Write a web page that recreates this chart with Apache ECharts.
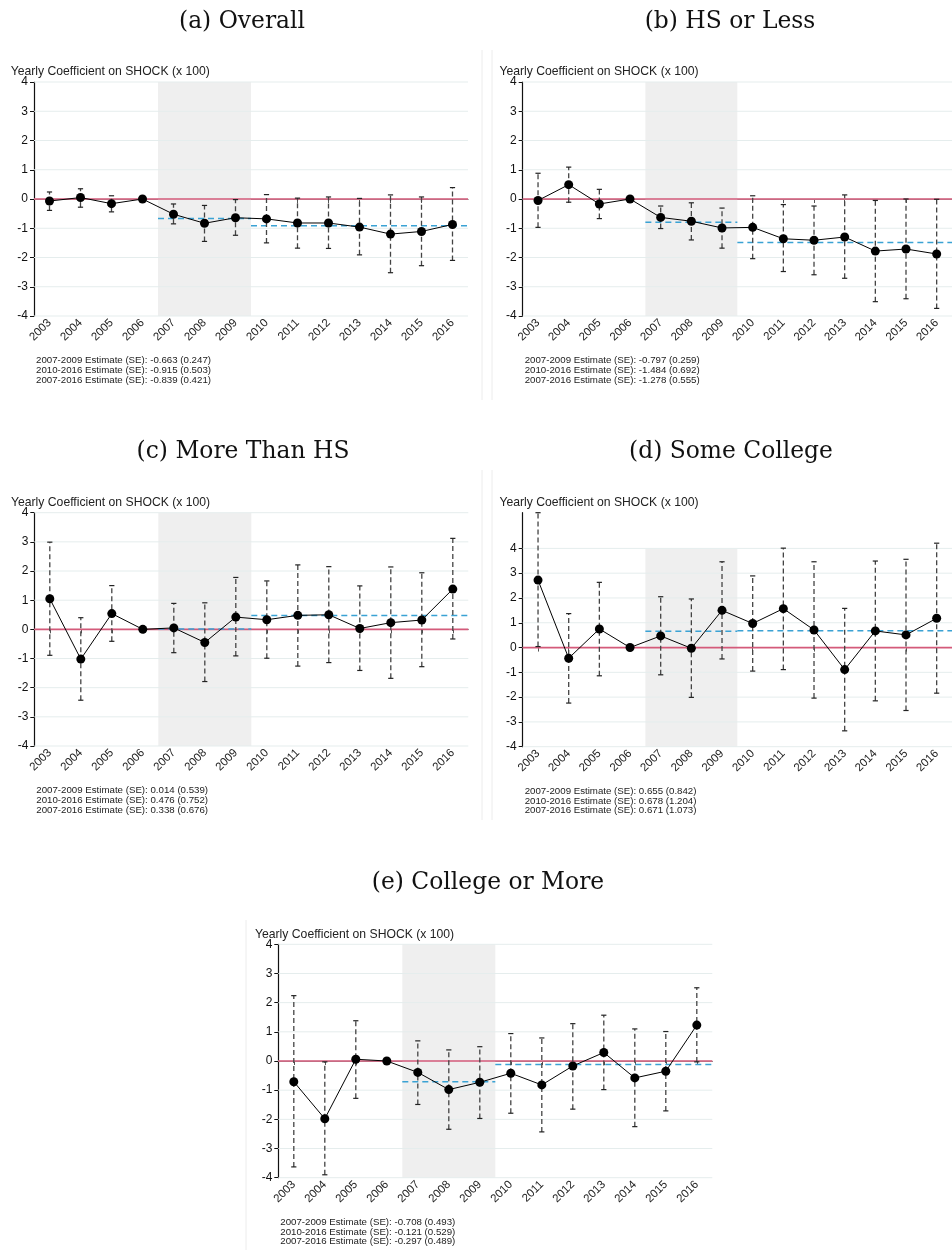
<!DOCTYPE html>
<html><head><meta charset="utf-8">
<script src="https://cdn.jsdelivr.net/npm/echarts@6/dist/echarts.min.js"></script>
<style>html,body{margin:0;padding:0;background:#fff}#c{width:952px;height:1250px}</style>
</head><body><div id="c"></div>
<script>
// ---------- DATA ----------
const years = ['2003','2004','2005','2006','2007','2008','2009','2010','2011','2012','2013','2014','2015','2016'];
const yTicks = [-4,-3,-2,-1,0,1,2,3,4];
const yAxisTitle = 'Yearly Coefficient on SHOCK (x 100)';
const panelTitles = ['(a) Overall','(b) HS or Less','(c) More Than HS','(d) Some College','(e) College or More'];
const shadeYears = ['2007','2009'];
const periods = [['2007','2009'],['2010','2016']];

const coefA = [-0.07, 0.05, -0.16, 0, -0.52, -0.83, -0.64, -0.68, -0.82, -0.82, -0.96, -1.20, -1.11, -0.87];
const loA   = [-0.39, -0.28, -0.44, 0, -0.85, -1.45, -1.24, -1.50, -1.68, -1.69, -1.91, -2.52, -2.28, -2.10];
const hiA   = [0.24, 0.35, 0.11, 0, -0.17, -0.22, -0.02, 0.15, 0.03, 0.07, 0.02, 0.14, 0.07, 0.39];
const estA  = [-0.663, -0.915];
const notesA = ['2007-2009 Estimate (SE): -0.663 (0.247)','2010-2016 Estimate (SE): -0.915 (0.503)','2007-2016 Estimate (SE): -0.839 (0.421)'];

const coefB = [-0.05, 0.49, -0.17, 0, -0.63, -0.76, -0.99, -0.97, -1.36, -1.41, -1.30, -1.78, -1.71, -1.88];
const loB   = [-0.97, -0.11, -0.67, 0, -1.01, -1.40, -1.68, -2.04, -2.48, -2.59, -2.71, -3.51, -3.41, -3.74];
const hiB   = [0.88, 1.09, 0.33, 0, -0.24, -0.13, -0.31, 0.11, -0.19, -0.24, 0.14, -0.05, 0.00, -0.01];
const estB  = [-0.797, -1.484];
const notesB = ['2007-2009 Estimate (SE): -0.797 (0.259)','2010-2016 Estimate (SE): -1.484 (0.692)','2007-2016 Estimate (SE): -1.278 (0.555)'];

const coefC = [1.05, -1.02, 0.54, 0, 0.05, -0.45, 0.42, 0.33, 0.48, 0.50, 0.03, 0.23, 0.32, 1.38];
const loC   = [-0.89, -2.43, -0.41, 0, -0.80, -1.79, -0.91, -0.99, -1.26, -1.14, -1.41, -1.68, -1.28, -0.33];
const hiC   = [2.99, 0.40, 1.50, 0, 0.89, 0.91, 1.78, 1.66, 2.21, 2.15, 1.49, 2.14, 1.94, 3.12];
const estC  = [0.014, 0.476];
const notesC = ['2007-2009 Estimate (SE): 0.014 (0.539)','2010-2016 Estimate (SE): 0.476 (0.752)','2007-2016 Estimate (SE): 0.338 (0.676)'];

const coefD = [2.72, -0.43, 0.75, 0, 0.47, -0.03, 1.50, 0.97, 1.57, 0.71, -0.89, 0.67, 0.51, 1.18];
const loD   = [0.04, -2.24, -1.14, 0, -1.10, -2.01, -0.46, -0.95, -0.89, -2.04, -3.36, -2.15, -2.54, -1.84];
const hiD   = [5.44, 1.37, 2.63, 0, 2.05, 1.96, 3.46, 2.89, 4.01, 3.46, 1.58, 3.49, 3.56, 4.21];
const estD  = [0.655, 0.678];
const notesD = ['2007-2009 Estimate (SE): 0.655 (0.842)','2010-2016 Estimate (SE): 0.678 (1.204)','2007-2016 Estimate (SE): 0.671 (1.073)'];

const coefE = [-0.71, -1.98, 0.06, 0, -0.39, -0.98, -0.73, -0.42, -0.82, -0.17, 0.29, -0.58, -0.35, 1.23];
const loE   = [-3.63, -3.90, -1.28, 0, -1.49, -2.34, -1.97, -1.79, -2.43, -1.65, -0.98, -2.25, -1.71, -0.03];
const hiE   = [2.24, -0.03, 1.38, 0, 0.69, 0.38, 0.49, 0.94, 0.79, 1.28, 1.57, 1.10, 1.01, 2.51];
const estE  = [-0.708, -0.121];
const notesE = ['2007-2009 Estimate (SE): -0.708 (0.493)','2010-2016 Estimate (SE): -0.121 (0.529)','2007-2016 Estimate (SE): -0.297 (0.489)'];

// ---------- LAYOUT ----------
const panels = [
  {coef:coefA, lo:loA, hi:hiA, est:estA, notes:notesA, yMax:4,    left:34,    top:82,    h:234,   subX:242, subY:22},
  {coef:coefB, lo:loB, hi:hiB, est:estB, notes:notesB, yMax:4,    left:522.7, top:82,    h:234,   subX:730, subY:22},
  {coef:coefC, lo:loC, hi:hiC, est:estC, notes:notesC, yMax:4,    left:34.3,  top:512.7, h:233.3, subX:243, subY:452},
  {coef:coefD, lo:loD, hi:hiD, est:estD, notes:notesD, yMax:hiD[0], left:522.7, top:512.7, h:234,  subX:731, subY:452},
  {coef:coefE, lo:loE, hi:hiE, est:estE, notes:notesE, yMax:4,    left:278.3, top:944.3, h:233.4, subX:488, subY:883}
];
const W = 434;
const red = '#d45a7a', blue = '#3aa2d4', gridCol = '#e5eded';

const chart = echarts.init(document.getElementById('c'), null, {renderer:'canvas'});
const grid = [], xAxis = [], yAxis = [], series = [], graphic = [];
const catIdx = y => years.indexOf(y);

panels.forEach((p, k) => {
  grid.push({left:p.left, top:p.top, width:W, height:p.h, containLabel:false});
  xAxis.push({type:'category', gridIndex:k, data:years, boundaryGap:true,
    axisLine:{show:true, lineStyle:{color:'#555', width:1.2}},
    axisTick:{show:true, alignWithLabel:true, length:4, lineStyle:{color:'#555', width:1}},
    axisLabel:{interval:0, rotate:45, fontSize:11.5, color:'#222', margin:5, fontFamily:'Liberation Sans'},
    splitLine:{show:false}});
  yAxis.push({type:'value', gridIndex:k, min:-4, max:p.yMax, interval:1,
    axisLine:{show:true, lineStyle:{color:'#111', width:1.2}},
    axisTick:{show:true, length:4, lineStyle:{color:'#111'}, customValues:yTicks},
    axisLabel:{fontSize:12, color:'#111', margin:6, fontFamily:'Liberation Sans', customValues:yTicks,
      formatter: v => (v > 4.001 ? '' : String(v))},
    splitLine:{show:false}});

  // shaded recession band
  series.push({type:'custom', xAxisIndex:k, yAxisIndex:k, z:1, silent:true,
    data:[[catIdx(shadeYears[0]), catIdx(shadeYears[1])]],
    renderItem:(params, api) => {
      const bw = api.size([1,0])[0];
      const a = api.coord([api.value(0), 4]), b = api.coord([api.value(1), -4]);
      return {type:'rect', shape:{x:a[0]-bw/2, y:a[1], width:b[0]-a[0]+bw, height:b[1]-a[1]},
        style:{fill:'#efefef'}};
    }});
  // gridlines
  series.push({type:'custom', xAxisIndex:k, yAxisIndex:k, z:2, silent:true,
    data: yTicks.map(v => [0, v]),
    renderItem:(params, api) => {
      const cs = params.coordSys; const y = api.coord([0, api.value(1)])[1];
      return {type:'line', shape:{x1:cs.x, y1:y, x2:cs.x+cs.width, y2:y}, style:{stroke:gridCol, lineWidth:1}};
    }});
  // zero line
  series.push({type:'custom', xAxisIndex:k, yAxisIndex:k, z:3, silent:true,
    data:[[0, 0]],
    renderItem:(params, api) => {
      const cs = params.coordSys; const y = api.coord([0, api.value(1)])[1];
      return {type:'line', shape:{x1:cs.x, y1:y, x2:cs.x+cs.width, y2:y}, style:{stroke:red, lineWidth:1.7}};
    }});
  // period estimates
  series.push({type:'custom', xAxisIndex:k, yAxisIndex:k, z:4, silent:true,
    data: periods.map((pr, i) => [catIdx(pr[0]), catIdx(pr[1]), p.est[i]]),
    renderItem:(params, api) => {
      const bw = api.size([1,0])[0];
      const a = api.coord([api.value(0), api.value(2)]), b = api.coord([api.value(1), api.value(2)]);
      return {type:'line', shape:{x1:a[0]-bw/2, y1:a[1], x2:b[0]+bw/2, y2:b[1]},
        style:{stroke:blue, lineWidth:1.5, lineDash:[6,4]}};
    }});
  // error bars
  series.push({type:'custom', xAxisIndex:k, yAxisIndex:k, z:5, silent:true,
    encode:{x:0, y:[1,2]},
    data: years.map((y, i) => [i, p.lo[i], p.hi[i]]),
    renderItem:(params, api) => {
      const lo = api.value(1), hi = api.value(2);
      if (lo === hi) return null;
      const pl = api.coord([api.value(0), lo]), ph = api.coord([api.value(0), hi]);
      const c = 2.6;
      return {type:'group', children:[
        {type:'line', shape:{x1:pl[0], y1:pl[1], x2:ph[0], y2:ph[1]}, style:{stroke:'#444', lineWidth:1.3, lineDash:[5,3]}},
        {type:'line', shape:{x1:ph[0]-c, y1:ph[1], x2:ph[0]+c, y2:ph[1]}, style:{stroke:'#222', lineWidth:1.2}},
        {type:'line', shape:{x1:pl[0]-c, y1:pl[1], x2:pl[0]+c, y2:pl[1]}, style:{stroke:'#222', lineWidth:1.2}}
      ]};
    }});
  // coefficients
  series.push({type:'line', xAxisIndex:k, yAxisIndex:k, z:6, data:p.coef, symbol:'circle', symbolSize:9,
    itemStyle:{color:'#000'}, lineStyle:{color:'#000', width:1}, silent:true});

  // texts
  graphic.push({type:'text', z:10, x:p.subX, y:p.subY, style:{text:panelTitles[k], fill:'#111',
    font:'23.4px "DejaVu Serif"', textAlign:'center', textVerticalAlign:'middle'}});
  graphic.push({type:'text', z:10, x:p.left-23.3, y:p.top-10, style:{text:yAxisTitle, fill:'#222',
    font:'12.2px "Liberation Sans"', textAlign:'left', textVerticalAlign:'middle'}});
  graphic.push({type:'text', z:10, x:p.left+2, y:p.top+p.h+40, style:{text:p.notes.join('\n'), fill:'#222',
    font:'9.7px "Liberation Sans"', lineHeight:9.6, textAlign:'left', textVerticalAlign:'top'}});
});

// faint panel frames
const frames = [[482,50,482,400],[492,50,492,400],[482,470,482,820],[492,470,492,820],[246,920,246,1250]];
frames.forEach(f => graphic.push({type:'line', z:0, shape:{x1:f[0],y1:f[1],x2:f[2],y2:f[3]}, style:{stroke:'#ececec', lineWidth:1}}));

chart.setOption({animation:false, backgroundColor:'#fff', grid, xAxis, yAxis, series, graphic});
</script></body></html>
